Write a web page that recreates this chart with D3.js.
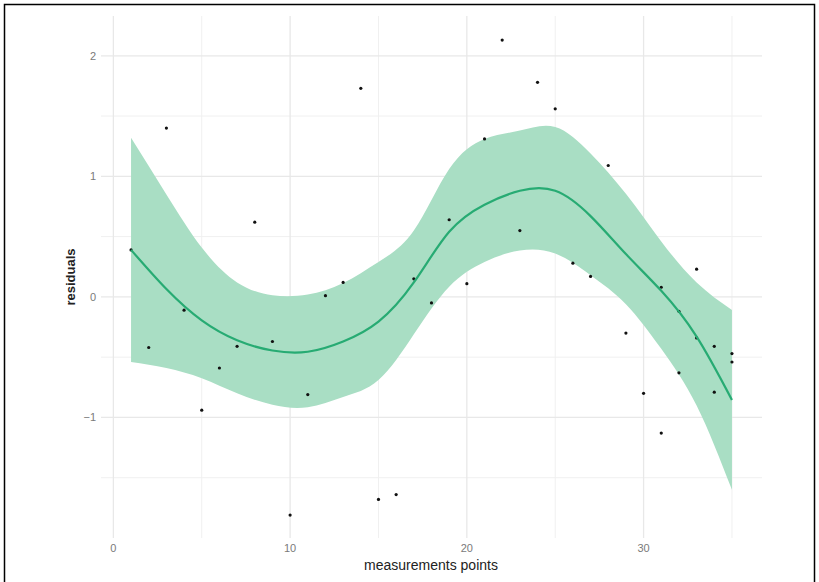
<!DOCTYPE html>
<html>
<head>
<meta charset="utf-8">
<script src="https://cdn.jsdelivr.net/npm/d3@7"></script>
<style>
  html, body { margin: 0; padding: 0; background: #fff; }
  svg { display: block; }
</style>
</head>
<body>
<script>
// ---- data ----
const pointX = [1,2,3,4,5,6,7,8,9,10,11,12,13,14,15,16,17,18,19,20,21,22,23,24,25,26,27,28,29,30,31,31,32,32,33,33,34,34,35,35];
const pointY = [0.39,-0.42,1.40,-0.11,-0.94,-0.59,-0.41,0.62,-0.37,-1.81,-0.81,0.01,0.12,1.73,-1.68,-1.64,0.15,-0.05,0.64,0.11,1.31,2.13,0.55,1.78,1.56,0.28,0.17,1.09,-0.30,-0.80,0.08,-1.13,-0.12,-0.63,0.23,-0.34,-0.41,-0.79,-0.47,-0.54];

const smoothX     = [1,3,5,7,9,11,13,15,17,19,21,23,25,27,29,31,33,35];
const smoothFit   = [0.39,0.065,-0.195,-0.36,-0.445,-0.455,-0.37,-0.205,0.12,0.54,0.765,0.88,0.88,0.67,0.355,0.05,-0.33,-0.855];
const smoothUpper = [1.32,0.85,0.41,0.12,0.014,0.02,0.115,0.29,0.55,1.06,1.31,1.38,1.41,1.19,0.855,0.46,0.12,-0.108];
const smoothLower = [-0.54,-0.59,-0.675,-0.80,-0.895,-0.915,-0.83,-0.69,-0.31,0.085,0.29,0.385,0.36,0.18,-0.06,-0.43,-0.90,-1.60];

const xMajorTicks = [0,10,20,30];
const xMinorTicks = [5,15,25,35];
const yMajorTicks = [-1,0,1,2];
const yMinorTicks = [-1.5,-0.5,0.5,1.5];
const xTitle = "measurements points";
const yTitle = "residuals";

// ---- layout ----
const W = 819, H = 582;
const pL = 101, pR = 762, pT = 16, pB = 538;

const svg = d3.select("body").append("svg").attr("width", W).attr("height", H);

// frame
svg.append("rect").attr("x", 4.5).attr("y", 4.5).attr("width", 810).attr("height", 580)
  .attr("fill", "none").attr("stroke", "#000").attr("stroke-width", 1.5);

const x = d3.scaleLinear().domain([-0.7, 36.7]).range([pL, pR]);
const y = d3.scaleLinear().domain([-2.0, 2.33]).range([pB, pT]);

const g = svg.append("g");

// grid
g.selectAll("line.ymin").data(yMinorTicks).join("line")
  .attr("x1", pL).attr("x2", pR).attr("y1", d => y(d)).attr("y2", d => y(d))
  .attr("stroke", "#f0f0f0").attr("stroke-width", 1);
g.selectAll("line.xmin").data(xMinorTicks).join("line")
  .attr("y1", pT).attr("y2", pB).attr("x1", d => x(d)).attr("x2", d => x(d))
  .attr("stroke", "#f0f0f0").attr("stroke-width", 1);
g.selectAll("line.ymaj").data(yMajorTicks).join("line")
  .attr("x1", pL).attr("x2", pR).attr("y1", d => y(d)).attr("y2", d => y(d))
  .attr("stroke", "#e8e8e8").attr("stroke-width", 1.3);
g.selectAll("line.xmaj").data(xMajorTicks).join("line")
  .attr("y1", pT).attr("y2", pB).attr("x1", d => x(d)).attr("x2", d => x(d))
  .attr("stroke", "#e8e8e8").attr("stroke-width", 1.3);

// band
const bandData = smoothX.map((d, i) => ({x: d, lo: smoothLower[i], hi: smoothUpper[i], f: smoothFit[i]}));
g.append("path").datum(bandData)
  .attr("d", d3.area().x(d => x(d.x)).y0(d => y(d.lo)).y1(d => y(d.hi)).curve(d3.curveNatural))
  .attr("fill", "#a9dec4");

// points
g.selectAll("circle").data(pointX.map((d, i) => ({x: d, y: pointY[i]}))).join("circle")
  .attr("cx", d => x(d.x)).attr("cy", d => y(d.y)).attr("r", 1.6).attr("fill", "#111");

// fit line
g.append("path").datum(bandData)
  .attr("d", d3.line().x(d => x(d.x)).y(d => y(d.f)).curve(d3.curveNatural))
  .attr("fill", "none").attr("stroke", "#27ab73").attr("stroke-width", 2.2);

// axes labels
const font = "Liberation Sans, Arial, sans-serif";
svg.append("g").selectAll("text").data(xMajorTicks).join("text")
  .attr("x", d => x(d)).attr("y", 552).attr("text-anchor", "middle")
  .attr("font-family", font).attr("font-size", 11).attr("fill", "#7a7a7a").text(d => d);
svg.append("g").selectAll("text").data(yMajorTicks).join("text")
  .attr("x", 96).attr("y", d => y(d) + 4).attr("text-anchor", "end")
  .attr("font-family", font).attr("font-size", 11).attr("fill", "#7a7a7a")
  .text(d => d < 0 ? "\u2212" + Math.abs(d) : d);

svg.append("text").attr("x", 431).attr("y", 570).attr("text-anchor", "middle")
  .attr("font-family", font).attr("font-size", 14).attr("fill", "#222").text(xTitle);
svg.append("text").attr("transform", `translate(75,${(pT + pB) / 2}) rotate(-90)`)
  .attr("text-anchor", "middle").attr("font-family", font).attr("font-size", 13)
  .attr("font-weight", "bold").attr("fill", "#222").text(yTitle);
</script>
</body>
</html>
